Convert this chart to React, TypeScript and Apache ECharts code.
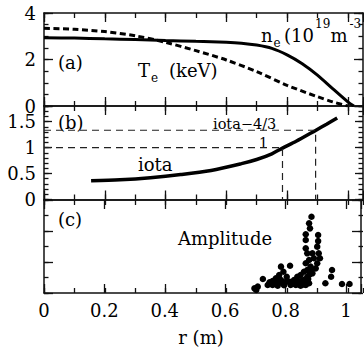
import React, { useEffect, useRef } from "react";
import * as echarts from "echarts";

// Panel (a): electron density (solid) and temperature (dashed)
const neR = [0, 0.1, 0.2, 0.3, 0.4, 0.5, 0.6, 0.65, 0.7, 0.75, 0.8, 0.85, 0.9, 0.95, 1.0, 1.02];
const neVals = [2.94, 2.92, 2.89, 2.86, 2.82, 2.78, 2.74, 2.7, 2.62, 2.48, 2.2, 1.82, 1.33, 0.75, 0.18, 0];
const teR = [0, 0.1, 0.2, 0.3, 0.4, 0.5, 0.6, 0.7, 0.8, 0.9, 0.95, 1.0];
const teVals = [3.34, 3.3, 3.2, 3.02, 2.74, 2.38, 1.98, 1.48, 0.89, 0.4, 0.18, 0];

// Panel (b): rotational transform
const iotaR = [0.155, 0.25, 0.35, 0.45, 0.55, 0.65, 0.7, 0.75, 0.785, 0.83, 0.894, 0.93, 0.965];
const iotaVals = [0.36, 0.38, 0.42, 0.48, 0.56, 0.69, 0.77, 0.88, 0.99, 1.12, 1.33, 1.45, 1.57];
const resonanceIota = [1, 4 / 3];
const resonanceR = [0.785, 0.894];

// Panel (c): fluctuation amplitude
const ampR = [
  0.697, 0.703, 0.708, 0.725, 0.741, 0.747, 0.757, 0.757, 0.76, 0.768, 0.774, 0.774, 0.779, 0.785, 0.785,
  0.79, 0.793, 0.795, 0.8, 0.804, 0.812, 0.815, 0.817, 0.823, 0.828, 0.83, 0.834, 0.839, 0.839, 0.845,
  0.845, 0.85, 0.85, 0.855, 0.856, 0.86, 0.861, 0.861, 0.867, 0.867, 0.867, 0.867, 0.867, 0.87, 0.872,
  0.872, 0.872, 0.875, 0.878, 0.878, 0.878, 0.88, 0.881, 0.883, 0.885, 0.886, 0.889, 0.889, 0.894, 0.9,
  0.905, 0.905, 0.908, 0.908, 0.91, 0.914, 0.932, 0.951, 0.954, 0.987, 1.012,
];
const ampVals = [
  0.3, 0.2, 0.41, 0.9, 0.52, 0.69, 0.77, 0.52, 0.6, 0.95, 0.69, 0.47, 1.16, 1.7, 0.84,
  0.63, 1.37, 0.5, 0.7, 1.05, 0.73, 1.76, 0.52, 0.66, 0.84, 0.6, 0.52, 1.05, 0.63, 0.73,
  0.55, 1.16, 0.47, 0.8, 0.63, 0.55, 1.37, 0.84, 3.79, 3.42, 2.88, 1.92, 0.52, 0.7, 2.56,
  1.48, 1.05, 0.9, 4.5, 2.13, 0.63, 1.2, 4.17, 1.7, 1.5, 4.92, 2.56, 1.27, 2.24, 1.59,
  2.99, 1.92, 3.74, 3.35, 2.56, 2.24, 0.63, 1.05, 1.48, 0.58, 0.58,
];

const xTickValues = [0, 0.2, 0.4, 0.6, 0.8, 1];
const xTickLabels = ["0", "0.2", "0.4", "0.6", "0.8", "1"];

const FONT = "DejaVu Serif";
const INK = "#111";

type Panel = {
  top: number;
  height: number;
  yMax: number;
  yMajor: number;
  yMinor: number;
  yMajorLen: number;
  yLabels: boolean;
  xLabels: boolean;
};

const panels: Panel[] = [
  { top: 13, height: 93, yMax: 4, yMajor: 2, yMinor: 0.5, yMajorLen: 9, yLabels: true, xLabels: false },
  { top: 106, height: 93.5, yMax: 1.8, yMajor: 0.5, yMinor: 0.1, yMajorLen: 8, yLabels: true, xLabels: false },
  { top: 200, height: 93, yMax: 6, yMajor: 2, yMinor: 1, yMajorLen: 9, yLabels: false, xLabels: true },
];

function isMultiple(v: number, step: number) {
  const q = v / step;
  return Math.abs(q - Math.round(q)) < 1e-6;
}

export default function App() {
  const ref = useRef<HTMLDivElement>(null);
  useEffect(() => {
    const chart = echarts.init(ref.current!, null, { renderer: "svg" });
    const grids: any[] = [];
    const xAxes: any[] = [];
    const yAxes: any[] = [];
    const labelStyle = { fontFamily: FONT, fontSize: 18, lineHeight: 16, color: "#000" };

    panels.forEach((p) => {
      for (const major of [true, false]) {
        const gi = grids.length;
        grids.push({ left: 44, right: 1, top: p.top, height: p.height, containLabel: false });
        for (const pos of ["bottom", "top"]) {
          xAxes.push({
            type: "value",
            gridIndex: gi,
            position: pos,
            min: 0,
            max: 1.05,
            interval: major ? 0.2 : 0.1,
            axisLine: { show: major, onZero: false, lineStyle: { color: INK, width: 1.5 } },
            axisTick: { show: true, inside: true, length: major ? 9 : 5, lineStyle: { color: INK, width: 1.3 } },
            axisLabel: {
              show: major && pos === "bottom" && p.xLabels,
              margin: 9,
              ...labelStyle,
              formatter: (v: number) => {
                const i = xTickValues.findIndex((t) => Math.abs(t - v) < 1e-6);
                return i >= 0 ? xTickLabels[i] : "";
              },
            },
            splitLine: { show: false },
          });
        }
        for (const pos of ["left", "right"]) {
          yAxes.push({
            type: "value",
            gridIndex: gi,
            position: pos,
            min: 0,
            max: p.yMax,
            interval: major ? p.yMajor : p.yMinor,
            axisLine: { show: major, onZero: false, lineStyle: { color: INK, width: 1.5 } },
            axisTick: { show: true, inside: true, length: major ? p.yMajorLen : 4.5, lineStyle: { color: INK, width: 1.3 } },
            axisLabel: {
              show: major && pos === "left" && p.yLabels,
              margin: 8,
              ...labelStyle,
              formatter: (v: number) => (isMultiple(v, p.yMajor) ? String(v) : ""),
            },
            splitLine: { show: false },
          });
        }
      }
    });

    const axisIdx = (pi: number) => pi * 4;

    const series: any[] = [
      {
        type: "line",
        name: "ne",
        xAxisIndex: axisIdx(0),
        yAxisIndex: axisIdx(0),
        data: neR.map((r, i) => [r, neVals[i]]),
        showSymbol: false,
        smooth: 0.3,
        lineStyle: { color: "#000", width: 3 },
      },
      {
        type: "line",
        name: "Te",
        xAxisIndex: axisIdx(0),
        yAxisIndex: axisIdx(0),
        data: teR.map((r, i) => [r, teVals[i]]),
        showSymbol: false,
        smooth: 0.3,
        lineStyle: { color: "#000", width: 3, type: [6, 3.5] },
      },
      {
        type: "line",
        name: "iota",
        xAxisIndex: axisIdx(1),
        yAxisIndex: axisIdx(1),
        data: iotaR.map((r, i) => [r, iotaVals[i]]),
        showSymbol: false,
        smooth: 0.3,
        lineStyle: { color: "#000", width: 3.5 },
      },
      ...resonanceIota.map((lvl, k) => ({
        type: "line",
        name: "resonance" + k,
        xAxisIndex: axisIdx(1),
        yAxisIndex: axisIdx(1),
        data: [
          [0, lvl],
          [resonanceR[k], lvl],
          [resonanceR[k], 0],
        ],
        showSymbol: false,
        lineStyle: { color: "#222", width: 1.2, type: [7, 5] },
      })),
      {
        type: "scatter",
        name: "Amplitude",
        xAxisIndex: axisIdx(2),
        yAxisIndex: axisIdx(2),
        data: ampR.map((r, i) => [r, ampVals[i]]),
        symbolSize: 6.5,
        itemStyle: { color: "#000", opacity: 1 },
      },
    ];

    const txt = (text: string, x: number, y: number, size: number, align = "left") => ({
      type: "text",
      x,
      y,
      style: {
        text,
        fontFamily: FONT,
        fontSize: size,
        lineHeight: Math.round(size * 0.95),
        fill: "#000",
        align,
        verticalAlign: "middle",
      },
    });

    chart.setOption({
      animation: false,
      backgroundColor: "#fff",
      textStyle: { fontFamily: FONT },
      grid: grids,
      xAxis: xAxes,
      yAxis: yAxes,
      series,
      graphic: [
        txt("(a)", 58, 62, 18),
        txt("T", 138, 70, 18),
        txt("e", 151, 78, 12),
        txt("(keV)", 169, 70, 18),
        txt("n", 261, 35, 18),
        txt("e", 273.5, 43, 12),
        txt("(10", 284, 35, 18),
        txt("19", 315, 24, 12),
        txt("m", 330.5, 35, 18),
        txt("-3", 349.5, 24, 12),
        txt("(b)", 58, 122, 18),
        txt("iota−4/3", 213, 124, 14.5),
        txt("1", 259, 143, 14),
        txt("iota", 138, 164, 18),
        txt("(c)", 58, 219, 18),
        txt("Amplitude", 178, 238, 18),
        txt("r (m)", 201, 337, 18, "center"),
      ],
    });
    return () => chart.dispose();
  }, []);
  return <div ref={ref} style={{ position: "absolute", left: 0, top: 0, width: 364, height: 353 }} />;
}
